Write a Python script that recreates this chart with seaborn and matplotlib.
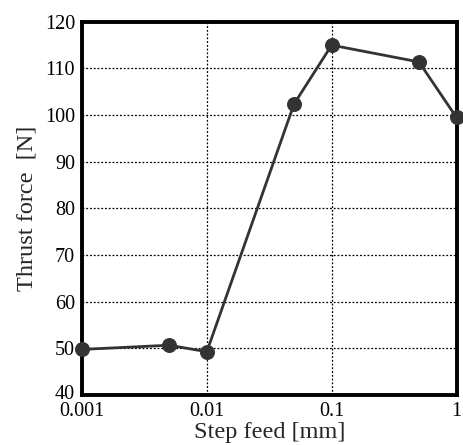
import matplotlib
matplotlib.use("Agg")
import matplotlib.pyplot as plt
import matplotlib.transforms as mtransforms
import seaborn as sns
import pandas as pd

step_feed = [0.001, 0.005, 0.01, 0.05, 0.1, 0.5, 1.0]
thrust_force = [49.8, 50.7, 49.3, 102.4, 115.0, 111.4, 99.5]
x_ticks = [0.001, 0.01, 0.1, 1]
x_tick_labels = ["0.001", "0.01", "0.1", "1"]
y_ticks = [40, 50, 60, 70, 80, 90, 100, 110, 120]

sns.set_style("white")
plt.rcParams["font.family"] = ["Liberation Serif", "DejaVu Serif"]

df = pd.DataFrame({"feed": step_feed, "force": thrust_force})

fig = plt.figure(figsize=(4.63, 4.45), dpi=100)
ax = fig.add_axes([0.177, 0.112, 0.809, 0.839])

ax.set_xscale("log")
sns.lineplot(data=df, x="feed", y="force", ax=ax, color="#333333",
             linewidth=2.0, marker="o", markersize=10,
             markeredgecolor="#333333", markerfacecolor="#333333",
             clip_on=False, zorder=5)

ax.set_xlim(0.001, 1)
ax.set_ylim(40, 120)
ax.set_xticks(x_ticks)
ax.set_xticklabels(x_tick_labels)
ax.set_yticks(y_ticks)
ax.minorticks_off()

ax.grid(True, which="major", color="black", linestyle=(0, (1.5, 1.5)), linewidth=0.9)
ax.set_axisbelow(True)

for s in ax.spines.values():
    s.set_linewidth(2.8)
    s.set_color("black")

ax.tick_params(axis="both", length=0, labelsize=14.5, colors="black")
ax.tick_params(axis="x", pad=5)
ax.tick_params(axis="y", pad=5)

# nudge the bottom y label up so it clears the first x label
lowest = ax.get_yticklabels()[0]
lowest.set_transform(lowest.get_transform() +
                     mtransforms.ScaledTranslation(0, 3 / 100, fig.dpi_scale_trans))

ax.set_xlabel("Step feed [mm]", fontsize=17.5, labelpad=1)
ax.set_ylabel("Thrust force  [N]", fontsize=17.5, labelpad=5)

fig.savefig("out.png", dpi=100)
